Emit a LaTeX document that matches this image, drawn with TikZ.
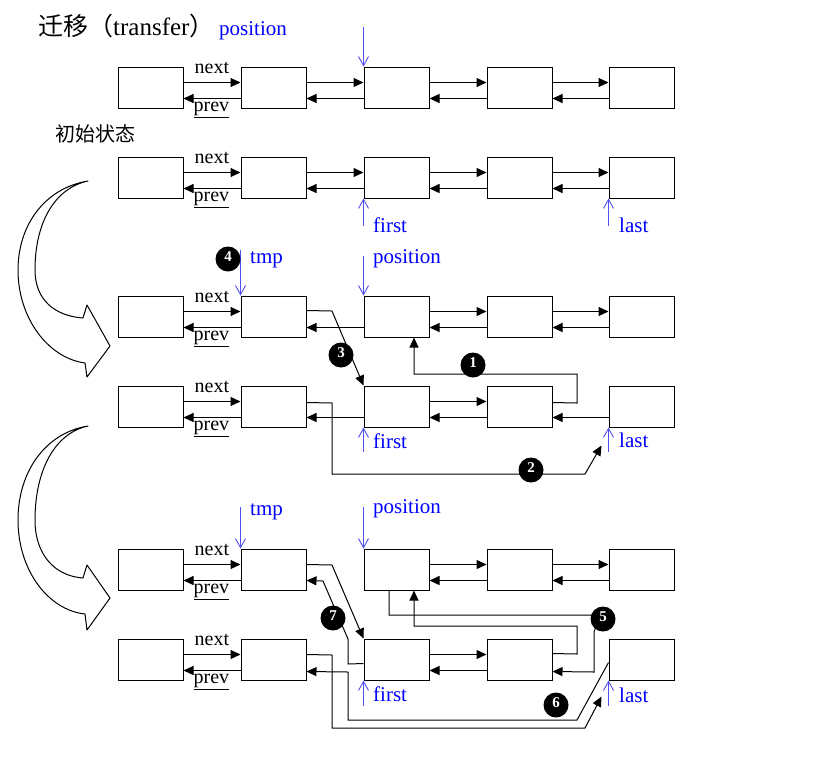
\documentclass[tikz,border=0pt]{standalone}
\usepackage{fontspec}
\setmainfont{Liberation Serif}
\newfontfamily\cjk{Noto Sans CJK SC}
\usetikzlibrary{arrows.meta,calc}
\definecolor{ptr}{RGB}{80,80,240}
\tikzset{
  nd/.style={draw, line width=1pt, minimum width=65pt, minimum height=41pt, inner sep=0pt},
  ar/.style={-{Triangle[length=10pt,width=9pt]}, line width=1pt},
  bl/.style={-{Straight Barb[length=9pt,width=10pt]}, draw=ptr, line width=0.9pt},
  lbl/.style={text=blue, font=\fontsize{21}{21}\selectfont, inner sep=0pt, anchor=base west},
  blk/.style={font=\fontsize{20}{20}\selectfont, inner sep=0pt, anchor=base west},
  num/.style={circle, fill=black, text=white, font=\fontsize{15}{15}\selectfont\bfseries, minimum size=25pt, inner sep=0pt},
  bigarrow/.style={draw, fill=white, line width=1pt, line join=round}
}
\newcommand\linknext[2]{\draw[ar] ($(#1.north east)+(0,16)$) -- ($(#2.north west)+(0,16)$);}
\newcommand\linkprev[2]{\draw[ar] ($(#2.north west)+(0,32)$) -- ($(#1.north east)+(0,32)$);}
\newcommand\nplabels[1]{%
  \node[blk] (nx#1) at ($(n#11.north east)+(11,7)$) {next};
  \node[blk] (pv#1) at ($(n#11.north east)+(10,45)$) {\underline{prev}};}
\newcommand\numtxt[1]{\raisebox{4pt}{#1}}
\begin{document}
\begin{tikzpicture}[x=1pt,y=-1pt]
\useasboundingbox (0,0) rectangle (813,766);
% boxes
\foreach \r/\y in {1/87.5,2/177.5,3/316.5,4/406.5,5/569.5,6/659.5}
  \foreach \c/\x in {1/150.5,2/273.5,3/396.5,4/519.5,5/641.5}
    \node[nd] (n\r\c) at (\x,\y) {};
% titles
\node[inner sep=0pt, anchor=base west, font=\fontsize{25}{25}\selectfont] (title) at (38,35) {{\cjk 迁移（}transfer{\cjk ）}};
\node[lbl] (pos1) at (219,35) {position};
\node[inner sep=0pt, anchor=base west, font=\fontsize{20}{20}\selectfont\cjk] (init) at (55,141) {初始状态};
% next/prev labels
\foreach \r in {1,...,6} {\nplabels{\r}}
% row 1
\linknext{n11}{n12}\linkprev{n11}{n12}
\linknext{n12}{n13}\linkprev{n12}{n13}
\linknext{n13}{n14}\linkprev{n13}{n14}
\linknext{n14}{n15}\linkprev{n14}{n15}
\draw[bl] ($(n13.north west)+(0,-40)$) -- (n13.north west);
% row 2
\linknext{n21}{n22}\linkprev{n21}{n22}
\linknext{n22}{n23}\linkprev{n22}{n23}
\linknext{n23}{n24}\linkprev{n23}{n24}
\linknext{n24}{n25}\linkprev{n24}{n25}
\draw[bl] ($(n23.south west)+(0,27)$) -- (n23.south west);
\draw[bl] ($(n25.south west)+(0,27)$) -- (n25.south west);
\node[lbl] (first2) at (373,232) {first};
\node[lbl] (last2) at (619,232) {last};
% row 3
\linknext{n31}{n32}\linkprev{n31}{n32}
\linkprev{n32}{n33}
\linknext{n33}{n34}\linkprev{n33}{n34}
\linknext{n34}{n35}\linkprev{n34}{n35}
\draw[bl] ($(n32.north west)+(0,-46)$) -- (n32.north west);
\draw[bl] ($(n33.north west)+(0,-40)$) -- (n33.north west);
\node[lbl] (tmp3) at (250,263) {tmp};
\node[lbl] (pos3) at (373,263) {position};
% row 4
\linknext{n41}{n42}\linkprev{n41}{n42}
\linkprev{n42}{n43}
\linknext{n43}{n44}\linkprev{n43}{n44}
\linkprev{n44}{n45}
\draw[bl] ($(n43.south west)+(0,24)$) -- (n43.south west);
\draw[bl] ($(n45.south west)+(0,24)$) -- (n45.south west);
\node[lbl] (first4) at (373,448) {first};
\node[lbl] (last4) at (619,447) {last};
% cross links 3-4
\draw[ar] ($(n32.north east)+(0,15)$) -- (332,311) -- (n43.north west);
\draw[ar] ($(n44.north east)+(0,17)$) -- (577,403) -- (577,374) -- (414,374) -- ($(n33.south)+(17.5,0)$);
\draw[ar] ($(n42.north east)+(0,17)$) -- (332,403) -- (332,474) -- (585,474) -- ($(n45.south west)+(-7,18)$);
\node[num] (c4) at (228,259) {\numtxt{4}};
\node[num] (c3) at (341,355) {\numtxt{3}};
\node[num] (c1) at (473,365) {\numtxt{1}};
\node[num] (c2) at (531,470) {\numtxt{2}};
% row 5
\linknext{n51}{n52}\linkprev{n51}{n52}
\linknext{n53}{n54}\linkprev{n53}{n54}
\linknext{n54}{n55}\linkprev{n54}{n55}
\draw[bl] ($(n52.north west)+(0,-42)$) -- (n52.north west);
\draw[bl] ($(n53.north west)+(0,-42)$) -- (n53.north west);
\node[lbl] (tmp5) at (250,515) {tmp};
\node[lbl] (pos5) at (373,513) {position};
% row 6
\linknext{n61}{n62}\linkprev{n61}{n62}
\linknext{n63}{n64}\linkprev{n63}{n64}
\draw[bl] ($(n63.south west)+(0,25)$) -- (n63.south west);
\draw[bl] ($(n65.south west)+(0,25)$) -- (n65.south west);
\node[lbl] (first6) at (373,701) {first};
\node[lbl] (last6) at (619,702) {last};
% cross links 5-6
\draw[ar] ($(n52.north east)+(0,16)$) -- (332,565) -- (n63.north west);
\draw[ar] ($(n63.north west)+(0,25)$) -- (348,664) -- (348,639) -- (323,581) -- ($(n52.north east)+(0,32)$);
\draw[ar] ($(n53.south)+(-7.5,0)$) -- (389,615) -- (600,615) -- (594,632) -- (594,672) -- ($(n64.north east)+(0,33)$);
\draw[ar] ($(n64.north east)+(0,15)$) -- (577,654) -- (577,626) -- (414,626) -- ($(n53.south)+(17.5,0)$);
\draw[ar] ($(n62.north east)+(0,16)$) -- (332,655) -- (332,728) -- (585,728) -- ($(n65.south west)+(-7,16)$);
\draw[ar] ($(n65.north west)+(0,24)$) -- (577,720) -- (348,720) -- (348,672) -- ($(n62.north east)+(0,33)$);
\node[num] (c7) at (333,618) {\numtxt{7}};
\node[num] (c5) at (603,619) {\numtxt{5}};
\node[num] (c6) at (556,705) {\numtxt{6}};
% big curved arrows
\draw[bigarrow] (88,181) .. controls (45,188) and (18,225) .. (18,270)
  .. controls (18,318) and (48,358) .. (85,363) -- (87,377) -- (110,346) -- (87,305) -- (83,318)
  .. controls (55,316) and (35,300) .. (35,270)
  .. controls (35,222) and (55,188) .. (88,181) -- cycle;
\draw[bigarrow] (88,426) .. controls (45,433) and (18,472) .. (18,520)
  .. controls (18,570) and (48,610) .. (85,614) -- (87,630) -- (110,598) -- (87,565) -- (83,578)
  .. controls (55,576) and (35,555) .. (35,520)
  .. controls (35,470) and (55,433) .. (88,426) -- cycle;
\end{tikzpicture}
\end{document}
